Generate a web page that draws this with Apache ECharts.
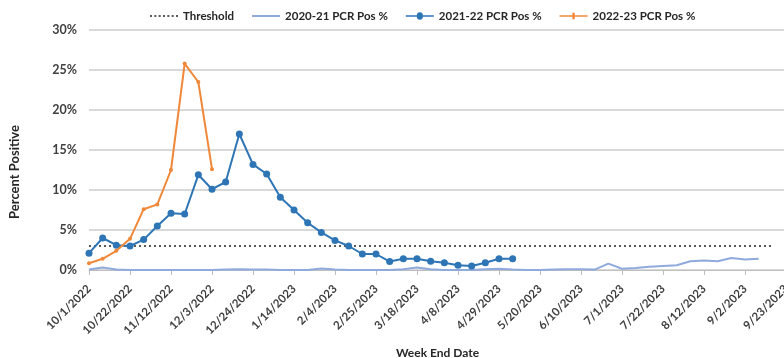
<!DOCTYPE html>
<html>
<head>
<meta charset="utf-8">
<script src="https://cdn.jsdelivr.net/npm/echarts@6/dist/echarts.min.js"></script>
<style>
html,body{margin:0;padding:0;background:#fff;}
#c{width:784px;height:358px;}
</style>
</head>
<body>
<div id="c"></div>
<script>
const categories = [
 "10/1/2022","10/8/2022","10/15/2022","10/22/2022","10/29/2022","11/5/2022","11/12/2022","11/19/2022","11/26/2022",
 "12/3/2022","12/10/2022","12/17/2022","12/24/2022","12/31/2022","1/7/2023","1/14/2023","1/21/2023","1/28/2023",
 "2/4/2023","2/11/2023","2/18/2023","2/25/2023","3/4/2023","3/11/2023","3/18/2023","3/25/2023","4/1/2023",
 "4/8/2023","4/15/2023","4/22/2023","4/29/2023","5/6/2023","5/13/2023","5/20/2023","5/27/2023","6/3/2023",
 "6/10/2023","6/17/2023","6/24/2023","7/1/2023","7/8/2023","7/15/2023","7/22/2023","7/29/2023","8/5/2023",
 "8/12/2023","8/19/2023","8/26/2023","9/2/2023","9/9/2023","9/16/2023","9/23/2023"
];
const threshold = [3,3,3,3,3,3,3,3,3,3,3,3,3,3,3,3,3,3,3,3,3,3,3,3,3,3,3,3,3,3,3,3,3,3,3,3,3,3,3,3,3,3,3,3,3,3,3,3,3,3,3];
const pos2021 = [0.05,0.3,0.05,0,0,0,0,0,0,0,0.05,0.1,0.05,0.05,0,0,0,0.2,0.05,0,0,0,0,0.1,0.3,0.1,0,0,0,0.1,0.15,0.05,0,0,0.05,0.1,0.1,0.05,0.8,0.15,0.25,0.4,0.5,0.6,1.1,1.2,1.1,1.5,1.3,1.4];
const pos2122 = [2.1,4.0,3.1,3.0,3.8,5.5,7.1,7.0,11.9,10.1,11.0,17.0,13.2,12.0,9.1,7.5,5.9,4.7,3.7,3.0,2.0,2.0,1.05,1.4,1.4,1.1,0.9,0.6,0.5,0.9,1.4,1.4];
const pos2223 = [0.85,1.4,2.4,3.9,7.6,8.2,12.5,25.8,23.5,12.6];
const yTicks = [0,5,10,15,20,25,30];
const seriesNames = ['Threshold','2020-21 PCR Pos %','2021-22 PCR Pos %','2022-23 PCR Pos %'];

const FONT = 'Lato';
const C_TH = '#595959', C_20 = '#8FAADC', C_21 = '#2E75B6', C_22 = '#F0883A';
const dotted = 'path://' + [0,3.5,7,10.5,14,17.5,21].map(x=>'M'+x+',0h1.6v1.6h-1.6z').join(' ');
const icons = [
  dotted,
  'path://M0,0h28v2h-28z',
  'path://M0,3.2h11A3,3 0 0 1 17,3.2h11v1.6h-11A3,3 0 0 1 11,4.8h-11z',
  'path://M0,3.2H12.8V0.8H15.2V3.2H28V4.8H15.2V7.2H12.8V4.8H0Z'
];
const colors = [C_TH, C_20, C_21, C_22];

const chart = echarts.init(document.getElementById('c'));
chart.setOption({
  animation:false,
  textStyle:{fontFamily:FONT},
  legend:{
    top:5, left:145, width:720, itemGap:18, itemWidth:28, itemHeight:8,
    textStyle:{fontFamily:FONT,fontWeight:'bold',fontSize:11.5,color:'#262626'},
    data:seriesNames.map((n,i)=>({name:n,icon:icons[i],itemStyle:{color:colors[i]}}))
  },
  grid:{left:89,right:-2,top:30,bottom:88,containLabel:false,outerBoundsMode:'none'},
  xAxis:{
    type:'category', data:categories, boundaryGap:false,
    name:'Week End Date', nameLocation:'middle', nameGap:77,
    nameTextStyle:{fontFamily:FONT,fontWeight:'bold',fontSize:12,color:'#262626'},
    axisLine:{lineStyle:{color:'#BFBFBF',width:1}},
    axisTick:{interval:2,length:5,lineStyle:{color:'#BFBFBF'}},
    axisLabel:{interval:2,rotate:45,margin:17,fontFamily:FONT,fontWeight:'bold',fontSize:11.5,color:'#404040'},
    splitLine:{show:false}
  },
  yAxis:{
    type:'value', min:yTicks[0], max:yTicks[yTicks.length-1], interval:5,
    name:'Percent Positive', nameLocation:'middle', nameGap:68,
    nameTextStyle:{fontFamily:FONT,fontWeight:'bold',fontSize:13,color:'#262626',padding:[0,44,0,0]},
    axisLine:{show:false}, axisTick:{show:false},
    axisLabel:{formatter:v=>v+'%',margin:12,fontFamily:FONT,fontWeight:'bold',fontSize:12.5,color:'#404040'},
    splitLine:{lineStyle:{color:'#D9D9D9',width:2}}
  },
  series:[
    {name:seriesNames[0],type:'line',data:threshold,showSymbol:false,symbol:'none',
     lineStyle:{type:[2,3],color:C_TH,width:1.8},itemStyle:{color:C_TH},z:1},
    {name:seriesNames[1],type:'line',data:pos2021,showSymbol:false,symbol:'none',
     lineStyle:{color:C_20,width:2},itemStyle:{color:C_20},z:2},
    {name:seriesNames[2],type:'line',data:pos2122,symbol:'circle',symbolSize:7,
     lineStyle:{color:C_21,width:2},itemStyle:{color:C_21},z:3},
    {name:seriesNames[3],type:'line',data:pos2223,symbol:'circle',symbolSize:4,
     lineStyle:{color:C_22,width:2},itemStyle:{color:C_22},z:4}
  ]
});
</script>
</body>
</html>
